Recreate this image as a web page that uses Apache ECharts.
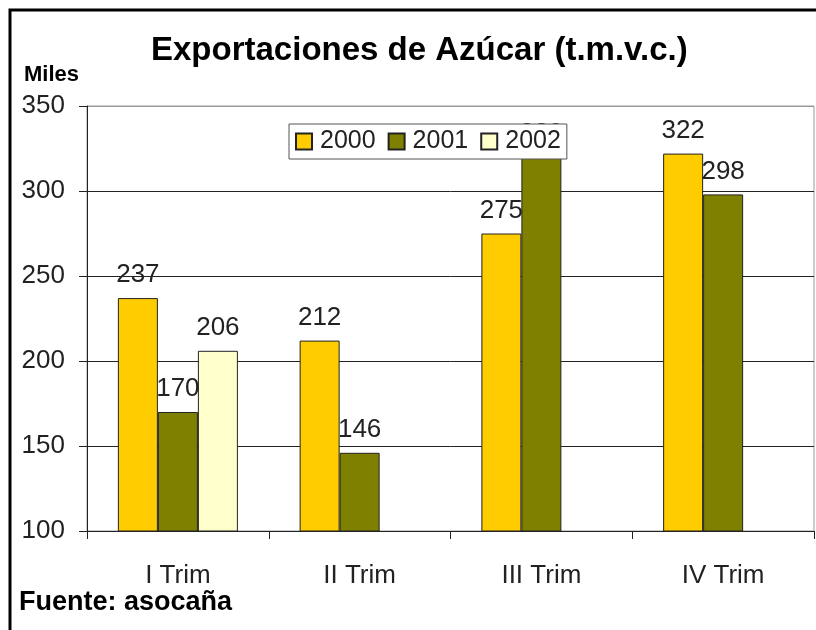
<!DOCTYPE html>
<html>
<head>
<meta charset="utf-8">
<script src="https://cdn.jsdelivr.net/npm/echarts@6/dist/echarts.min.js"></script>
<style>
  html, body { margin: 0; padding: 0; background: #fff; }
  #box { width: 816px; height: 630px; }
</style>
</head>
<body>
<div id="box"></div>
<script>
// datos
var categorias = ['I Trim', 'II Trim', 'III Trim', 'IV Trim']
var anios = ['2000', '2001', '2002']
var valores2000 = [237, 212, 275, 322]
var valores2001 = [170, 146, 320, 298]
var valores2002 = [206, null, null, null]
var colores = ['#FFCC00', '#808000', '#FFFFCC']

var fuente = 'Liberation Sans, Arial, sans-serif'

var myChart = echarts.init(document.getElementById('box'))

function serie(nombre, datos, color) {
    return {
        name: nombre,
        type: 'bar',
        data: datos,
        barWidth: 40,
        barGap: '0%',
        itemStyle: {
            color: color,
            borderColor: '#222',
            borderWidth: 1
        },
        label: {
            show: true,
            position: 'top',
            distance: 10,
            color: '#222',
            fontSize: 26,
            fontFamily: fuente
        }
    }
}

var option = {
    animation: false,
    title: {
        text: 'Exportaciones de Azúcar (t.m.v.c.)',
        left: 146,
        top: 29,
        textStyle: {
            color: '#000',
            fontSize: 33,
            fontWeight: 'bold',
            fontFamily: fuente
        }
    },
    legend: {
        data: anios,
        left: 289,
        top: 124,
        itemWidth: 16,
        itemHeight: 16,
        itemGap: 12,
        padding: [5, 6, 5, 6],
        backgroundColor: '#fff',
        borderColor: '#555',
        borderWidth: 1,
        borderRadius: 0,
        icon: 'rect',
        z: 10,
        textStyle: {
            color: '#222',
            fontSize: 25,
            fontFamily: fuente,
            padding: [0, 0, 0, 3]
        }
    },
    grid: {
        left: 87,
        right: 2,
        top: 106,
        bottom: 99,
        show: true,
        borderColor: '#999',
        borderWidth: 1
    },
    xAxis: {
        type: 'category',
        data: categorias,
        axisLine: { lineStyle: { color: '#222', width: 1 } },
        axisTick: { show: true, length: 8, lineStyle: { color: '#222' } },
        axisLabel: {
            color: '#222',
            fontSize: 26,
            fontFamily: fuente,
            margin: 32
        }
    },
    yAxis: {
        type: 'value',
        min: 100,
        max: 350,
        interval: 50,
        axisLine: { show: true, lineStyle: { color: '#222', width: 1 } },
        axisTick: { show: true, length: 8, lineStyle: { color: '#222' } },
        splitLine: {
            lineStyle: { color: ['#222', '#222', '#222', '#222', '#222', '#999'], width: 1 }
        },
        axisLabel: {
            color: '#222',
            fontSize: 26,
            fontFamily: fuente,
            margin: 22
        }
    },
    graphic: [
        {
            type: 'rect',
            shape: { x: 10, y: 10, width: 830, height: 650 },
            style: { fill: 'none', stroke: '#000', lineWidth: 3 },
            silent: true
        },
        {
            type: 'text',
            left: 24,
            top: 64,
            style: {
                text: 'Miles',
                fill: '#000',
                font: 'bold 22px ' + fuente
            }
        },
        {
            type: 'text',
            left: 19,
            top: 589,
            style: {
                text: 'Fuente: asocaña',
                fill: '#000',
                font: 'bold 27px ' + fuente
            }
        }
    ],
    series: [
        serie(anios[0], valores2000, colores[0]),
        serie(anios[1], valores2001, colores[1]),
        serie(anios[2], valores2002, colores[2])
    ]
}

myChart.setOption(option)
</script>
</body>
</html>
